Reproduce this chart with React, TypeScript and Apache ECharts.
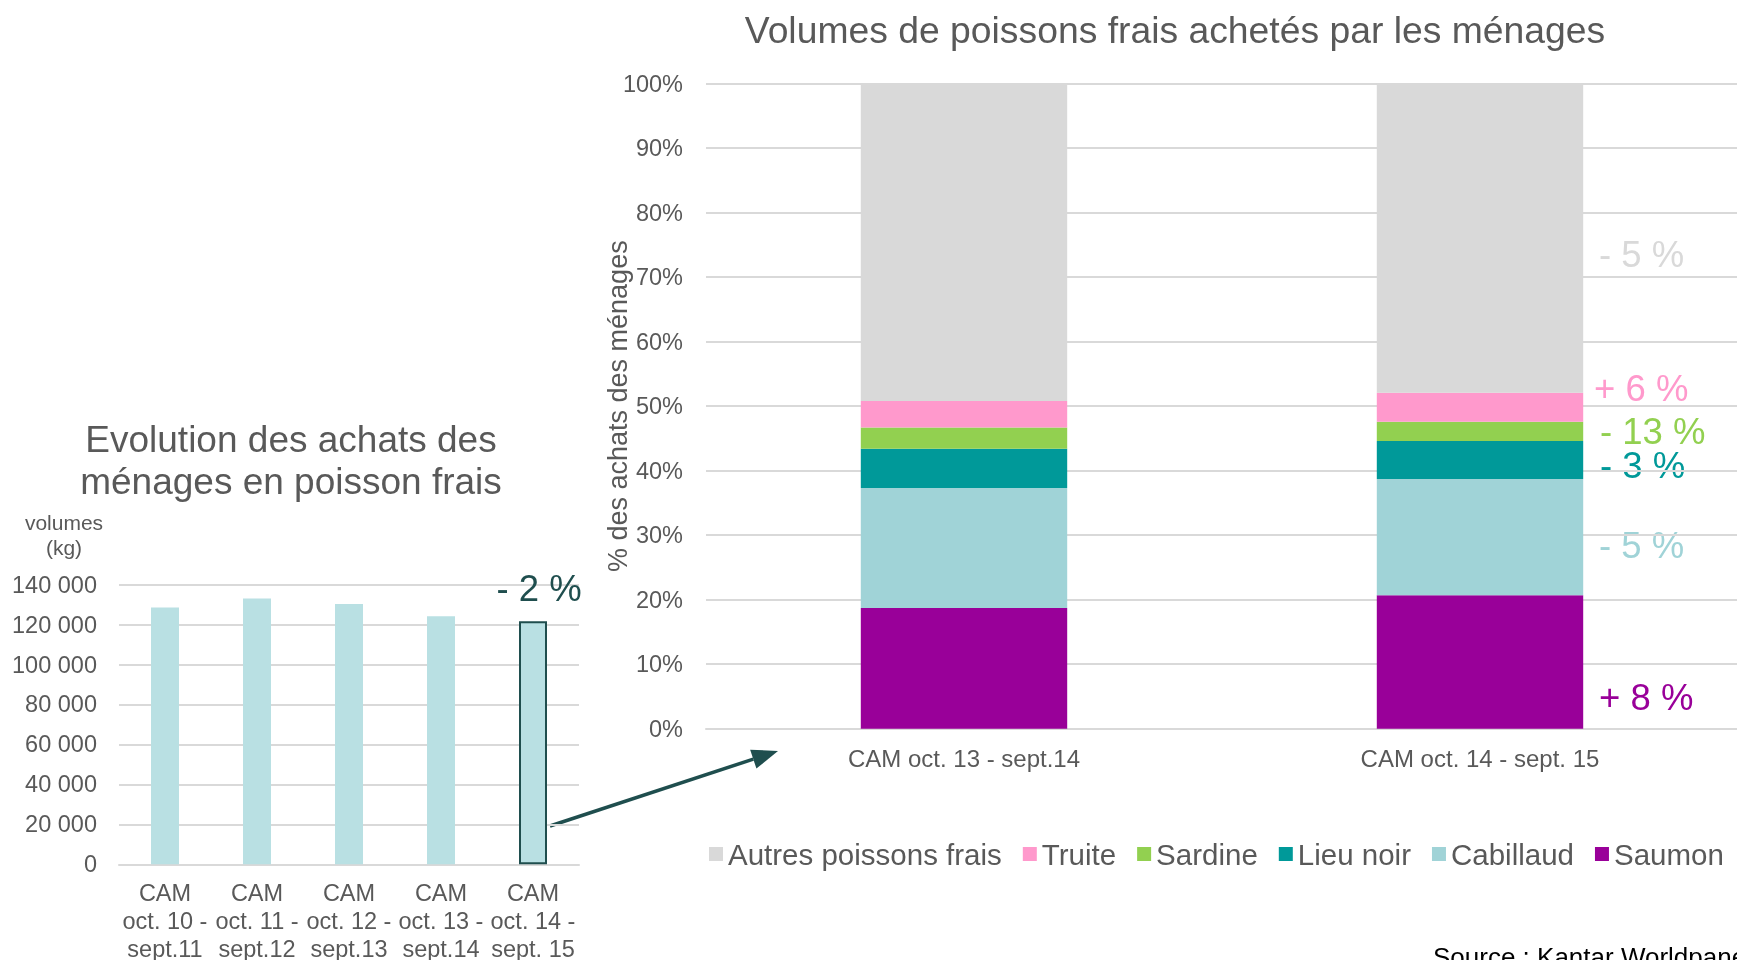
import React, { useEffect, useRef } from "react";
import * as echarts from "echarts";

// Left chart: household purchase volumes (kg)
const leftCategories = [
  "CAM\noct. 10 -\nsept.11",
  "CAM\noct. 11 -\nsept.12",
  "CAM\noct. 12 -\nsept.13",
  "CAM\noct. 13 -\nsept.14",
  "CAM\noct. 14 -\nsept. 15",
];
const leftValues = [128600, 133100, 130300, 124200, 121700];
const leftTicks = { min: 0, max: 140000, interval: 20000 };
const leftChangeLabel = "- 2 %";

// Right chart: share of purchases (%)
const rightCategories = ["CAM oct. 13 - sept.14", "CAM oct. 14 - sept. 15"];
const saumon = [18.7, 20.7];
const cabillaud = [18.6, 18.0];
const lieuNoir = [6.1, 5.9];
const sardine = [3.3, 3.0];
const truite = [4.1, 4.5];
const autres = [49.2, 47.9];
const rightTicks = { min: 0, max: 100, interval: 10 };

const seriesNames = ["Saumon", "Cabillaud", "Lieu noir", "Sardine", "Truite", "Autres poissons frais"];
const seriesValues = [saumon, cabillaud, lieuNoir, sardine, truite, autres];
const seriesColors = ["#990099", "#A0D3D7", "#009999", "#92D050", "#FF99CC", "#D9D9D9"];
const legendOrder = ["Autres poissons frais", "Truite", "Sardine", "Lieu noir", "Cabillaud", "Saumon"];

const changeLabels = ["+ 8 %", "- 5 %", "- 3 %", "- 13 %", "+ 6 %", "- 5 %"];

const FONT = "'Liberation Sans', Arial, sans-serif";
const GREY = "#595959";
const DARK = "#1F4E4E";
const GRID = "#D9D9D9";

export default function App() {
  const ref = useRef<HTMLDivElement>(null);

  useEffect(() => {
    if (!ref.current) return;
    const chart = echarts.init(ref.current, undefined, { renderer: "svg" });

    const fmtThousands = (v: number) =>
      String(v).replace(/\B(?=(\d{3})+(?!\d))/g, " ");

    const leftData = leftValues.map((v, i) =>
      i === leftValues.length - 1
        ? {
            value: v,
            itemStyle: { borderColor: DARK, borderWidth: 2 },
            label: {
              show: true,
              position: "top",
              distance: 14,
              offset: [6, 0],
              formatter: leftChangeLabel,
              fontSize: 36.5,
              color: DARK,
              fontFamily: FONT,
            },
          }
        : v
    );

    const rightSeries = seriesNames.map((name, i) => ({
      name,
      type: "bar",
      stack: "total",
      xAxisIndex: 1,
      yAxisIndex: 1,
      barWidth: "40%",
      data: seriesValues[i],
      itemStyle: { color: seriesColors[i] },
    }));

    // annotation positions (left x, center y) for the change labels beside bar 2
    const annPos: [number, number][] = [
      [1599, 697],
      [1599, 545],
      [1600, 465],
      [1600, 431],
      [1594, 388],
      [1599, 254],
    ];

    const arrowStart = [550, 826];
    const arrowTip = [778, 751];
    const dx = arrowTip[0] - arrowStart[0];
    const dy = arrowTip[1] - arrowStart[1];
    const len = Math.sqrt(dx * dx + dy * dy);
    const ux = dx / len;
    const uy = dy / len;
    const headL = 26;
    const headW = 10;
    const bx = arrowTip[0] - ux * headL;
    const by = arrowTip[1] - uy * headL;

    chart.setOption({
      animation: false,
      textStyle: { fontFamily: FONT },
      legend: {
        data: legendOrder,
        left: 704,
        top: 834,
        itemWidth: 14,
        itemHeight: 14,
        itemGap: 21,
        icon: "rect",
        textStyle: { fontSize: 29.5, color: GREY, fontFamily: FONT },
      },
      grid: [
        { left: 119, top: 584.6, width: 460, height: 279.7, outerBoundsMode: "none", containLabel: false },
        { left: 706, top: 83.7, width: 1032, height: 645, outerBoundsMode: "none", containLabel: false },
      ],
      xAxis: [
        {
          type: "category",
          gridIndex: 0,
          data: leftCategories,
          axisLine: { lineStyle: { color: GRID, width: 2 } },
          axisTick: { show: false },
          axisLabel: {
            interval: 0,
            fontSize: 23.5,
            lineHeight: 28,
            color: GREY,
            margin: 15,
            fontFamily: FONT,
          },
        },
        {
          type: "category",
          gridIndex: 1,
          data: rightCategories,
          axisLine: { lineStyle: { color: GRID, width: 2 } },
          axisTick: { show: false },
          axisLabel: { fontSize: 24, color: GREY, margin: 18, fontFamily: FONT },
        },
      ],
      yAxis: [
        {
          type: "value",
          gridIndex: 0,
          min: leftTicks.min,
          max: leftTicks.max,
          interval: leftTicks.interval,
          axisLine: { show: false },
          axisTick: { show: false },
          splitLine: { lineStyle: { color: GRID, width: 2 } },
          axisLabel: {
            fontSize: 23.5,
            color: GREY,
            margin: 22,
            fontFamily: FONT,
            formatter: (v: number) => fmtThousands(v),
          },
        },
        {
          type: "value",
          gridIndex: 1,
          min: rightTicks.min,
          max: rightTicks.max,
          interval: rightTicks.interval,
          name: "% des achats des ménages",
          nameLocation: "middle",
          nameGap: 75,
          nameMoveOverlap: false,
          nameTextStyle: { fontSize: 27, color: GREY, fontFamily: FONT },
          axisLine: { show: false },
          axisTick: { show: false },
          splitLine: { lineStyle: { color: GRID, width: 2 } },
          axisLabel: {
            fontSize: 23.5,
            color: GREY,
            margin: 23,
            fontFamily: FONT,
            formatter: "{value}%",
          },
        },
      ],
      series: [
        {
          name: "Volumes",
          type: "bar",
          xAxisIndex: 0,
          yAxisIndex: 0,
          barWidth: 28,
          data: leftData,
          itemStyle: { color: "#B9E0E3" },
        },
        ...rightSeries,
      ],
      graphic: [
        {
          type: "text",
          x: 1175,
          y: 30,
          style: {
            text: "Volumes de poissons frais achetés par les ménages",
            fontSize: 37.3,
            fill: GREY,
            fontFamily: FONT,
            align: "center",
            verticalAlign: "middle",
          },
        },
        {
          type: "text",
          x: 291,
          y: 460,
          style: {
            text: "Evolution des achats des\nménages en poisson frais",
            fontSize: 37,
            lineHeight: 42,
            fill: GREY,
            fontFamily: FONT,
            align: "center",
            verticalAlign: "middle",
          },
        },
        {
          type: "text",
          x: 64,
          y: 535,
          style: {
            text: "volumes\n(kg)",
            fontSize: 21,
            lineHeight: 24.5,
            fill: GREY,
            fontFamily: FONT,
            align: "center",
            verticalAlign: "middle",
          },
        },
        ...changeLabels.map((t, i) => ({
          type: "text",
          x: annPos[i][0],
          y: annPos[i][1],
          style: {
            text: t,
            fontSize: 36.5,
            fill: seriesColors[i],
            fontFamily: FONT,
            align: "left",
            verticalAlign: "middle",
          },
        })),
        {
          type: "line",
          shape: { x1: arrowStart[0], y1: arrowStart[1], x2: bx, y2: by },
          style: { stroke: DARK, lineWidth: 3.5 },
        },
        {
          type: "polygon",
          shape: {
            points: [
              [arrowTip[0], arrowTip[1]],
              [bx - uy * headW, by + ux * headW],
              [bx + uy * headW, by - ux * headW],
            ],
          },
          style: { fill: DARK },
        },
        {
          type: "text",
          x: 1433,
          y: 944,
          style: {
            text: "Source : Kantar Worldpanel",
            fontSize: 26,
            fill: "#000000",
            fontFamily: FONT,
            align: "left",
            verticalAlign: "top",
          },
        },
      ],
    });

    return () => chart.dispose();
  }, []);

  return (
    <div
      ref={ref}
      style={{ position: "fixed", left: 0, top: 0, width: 1737, height: 960 }}
    />
  );
}
